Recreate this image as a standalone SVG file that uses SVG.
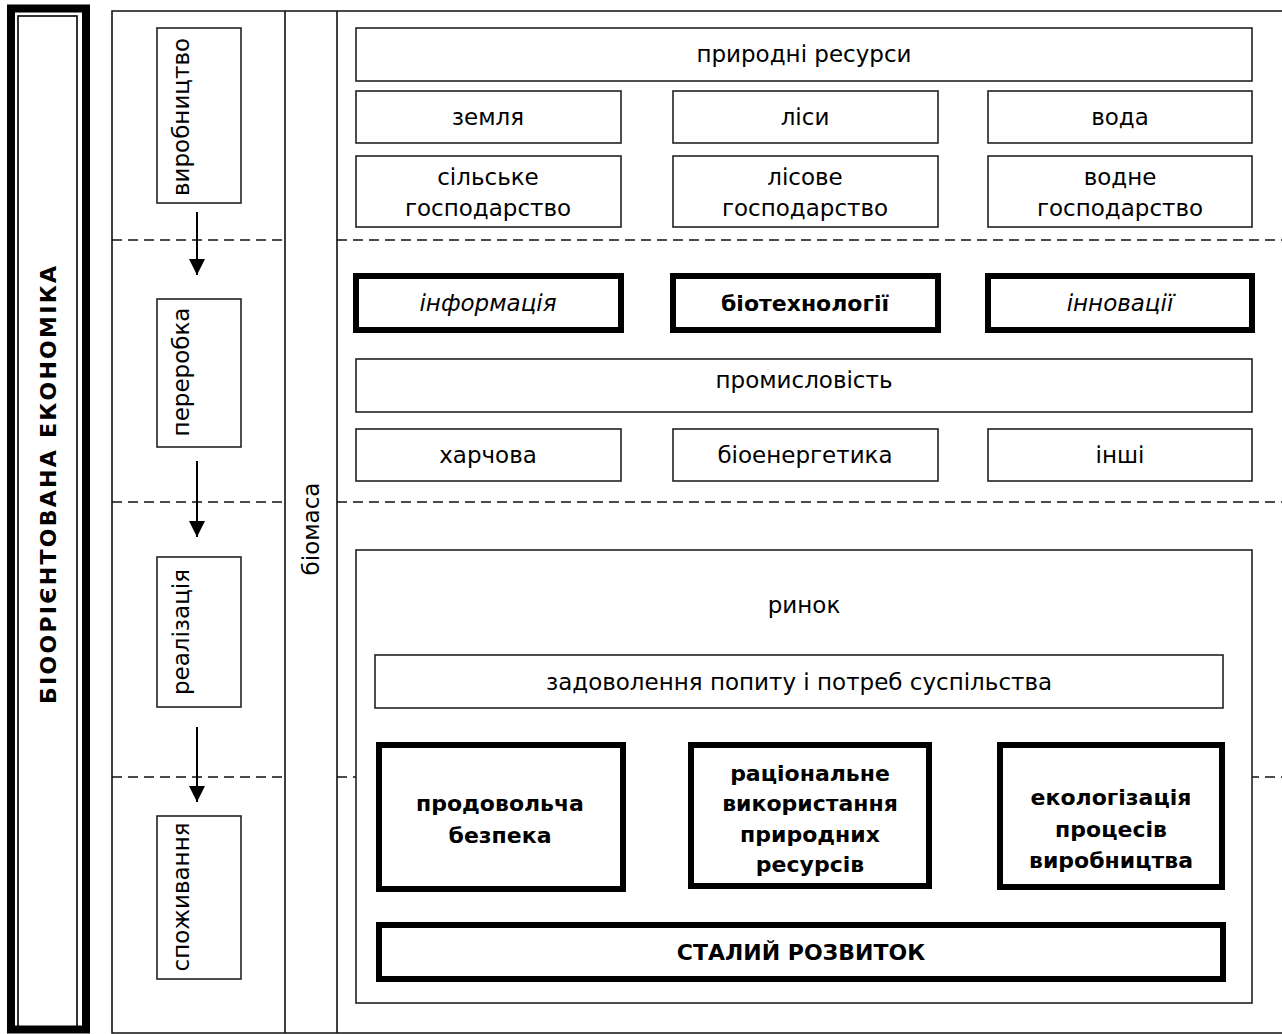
<svg xmlns="http://www.w3.org/2000/svg" width="1282" height="1034" viewBox="0 0 1282 1034">
<defs>
<style>
.t{font-family:"DejaVu Sans","Liberation Sans",sans-serif;font-size:23px;fill:#000;text-anchor:middle;dominant-baseline:central}
.b{font-weight:bold;font-size:22px}
.i{font-style:italic}
.box{fill:#fff;stroke:#222;stroke-width:1.6}
.thick{fill:#fff;stroke:#000;stroke-width:6}
.frame{fill:none;stroke:#111;stroke-width:1.6}
.dash{stroke:#111;stroke-width:1.6;stroke-dasharray:10 6;fill:none}
.arr{stroke:#000;stroke-width:2;fill:none}
</style>
<marker id="ah" viewBox="0 0 16 16" refX="16" refY="8" markerWidth="16" markerHeight="16" markerUnits="userSpaceOnUse" orient="auto">
<path d="M0,0 L16,8 L0,16 z" fill="#000"/>
</marker>
</defs>
<rect width="1282" height="1034" fill="#fff"/>

<g id="title">
<rect x="11" y="8.5" width="75" height="1021" fill="none" stroke="#000" stroke-width="8"/>
<rect x="18" y="16" width="59" height="1011" fill="none" stroke="#000" stroke-width="1.6"/>
<text class="t b" transform="translate(48,485) rotate(-90)" textLength="438" lengthAdjust="spacing">БІООРІЄНТОВАНА ЕКОНОМІКА</text>
</g>

<g id="frame">
<path class="frame" d="M1290,11 H112 V1033 H1290 M285,11 V1033 M337,11 V1033"/>
</g>

<g id="dashes">
<path class="dash" d="M112,240 H285 M337,240 H1282 M112,502 H285 M337,502 H1282 M112,777 H285 M337,777 H1282"/>
</g>

<g id="connectors">
<line class="arr" x1="197" y1="212" x2="197" y2="275" marker-end="url(#ah)"/>
<line class="arr" x1="197" y1="461" x2="197" y2="537" marker-end="url(#ah)"/>
<line class="arr" x1="197" y1="727" x2="197" y2="802" marker-end="url(#ah)"/>
</g>

<g id="stage-vyrobnytstvo">
<rect class="box" x="157" y="28" width="84" height="175"/>
<text class="t" transform="translate(181,117) rotate(-90)">виробництво</text>
</g>
<g id="stage-pererobka">
<rect class="box" x="157" y="299" width="84" height="148"/>
<text class="t" transform="translate(181,372) rotate(-90)">переробка</text>
</g>
<g id="stage-realizatsiia">
<rect class="box" x="157" y="557" width="84" height="150"/>
<text class="t" transform="translate(181,632) rotate(-90)">реалізація</text>
</g>
<g id="stage-spozhyvannia">
<rect class="box" x="157" y="816" width="84" height="163"/>
<text class="t" transform="translate(181,897) rotate(-90)">споживання</text>
</g>

<g id="biomasa">
<text class="t" transform="translate(311,529) rotate(-90)">біомаса</text>
</g>

<g id="pryrodni-resursy">
<rect class="box" x="356" y="28" width="896" height="53"/>
<text class="t" x="804" y="54">природні ресурси</text>
</g>
<g id="zemlia">
<rect class="box" x="356" y="91" width="265" height="52"/>
<text class="t" x="488" y="117">земля</text>
</g>
<g id="lisy">
<rect class="box" x="673" y="91" width="265" height="52"/>
<text class="t" x="805" y="117">ліси</text>
</g>
<g id="voda">
<rect class="box" x="988" y="91" width="264" height="52"/>
<text class="t" x="1120" y="117">вода</text>
</g>
<g id="silske">
<rect class="box" x="356" y="156" width="265" height="71"/>
<text class="t" x="488" y="177">сільське</text>
<text class="t" x="488" y="208">господарство</text>
</g>
<g id="lisove">
<rect class="box" x="673" y="156" width="265" height="71"/>
<text class="t" x="805" y="177">лісове</text>
<text class="t" x="805" y="208">господарство</text>
</g>
<g id="vodne">
<rect class="box" x="988" y="156" width="264" height="71"/>
<text class="t" x="1120" y="177">водне</text>
<text class="t" x="1120" y="208">господарство</text>
</g>

<g id="informatsiia">
<rect class="thick" x="356" y="276" width="265" height="54"/>
<text class="t i" x="488" y="303">інформація</text>
</g>
<g id="biotekhnolohii">
<rect class="thick" x="673" y="276" width="265" height="54"/>
<text class="t b" x="805" y="303">біотехнології</text>
</g>
<g id="innovatsii">
<rect class="thick" x="988" y="276" width="264" height="54"/>
<text class="t i" x="1120" y="303">інновації</text>
</g>

<g id="promyslovist">
<rect class="box" x="356" y="359" width="896" height="53"/>
<text class="t" x="804" y="380">промисловість</text>
</g>
<g id="kharchova">
<rect class="box" x="356" y="429" width="265" height="52"/>
<text class="t" x="488" y="455">харчова</text>
</g>
<g id="bioenerhetyka">
<rect class="box" x="673" y="429" width="265" height="52"/>
<text class="t" x="805" y="455">біоенергетика</text>
</g>
<g id="inshi">
<rect class="box" x="988" y="429" width="264" height="52"/>
<text class="t" x="1120" y="455">інші</text>
</g>

<g id="rynok">
<rect class="box" x="356" y="550" width="896" height="453"/>
<text class="t" x="804" y="605">ринок</text>
</g>
<g id="zadovolennia">
<rect class="box" x="375" y="655" width="848" height="53"/>
<text class="t" x="799" y="682">задоволення попиту і потреб суспільства</text>
</g>
<g id="prodovolcha">
<rect class="thick" x="379" y="745" width="244" height="144"/>
<text class="t b" x="500" y="803">продовольча</text>
<text class="t b" x="500" y="835">безпека</text>
</g>
<g id="ratsionalne">
<rect class="thick" x="691" y="745" width="238" height="141"/>
<text class="t b" x="810" y="773">раціональне</text>
<text class="t b" x="810" y="803">використання</text>
<text class="t b" x="810" y="834">природних</text>
<text class="t b" x="810" y="864">ресурсів</text>
</g>
<g id="ekolohizatsiia">
<rect class="thick" x="1000" y="745" width="222" height="142"/>
<text class="t b" x="1111" y="797">екологізація</text>
<text class="t b" x="1111" y="829">процесів</text>
<text class="t b" x="1111" y="860">виробництва</text>
</g>
<g id="stalyi-rozvytok">
<rect class="thick" x="379" y="925" width="844" height="54"/>
<text class="t b" x="801" y="952">СТАЛИЙ РОЗВИТОК</text>
</g>
</svg>
